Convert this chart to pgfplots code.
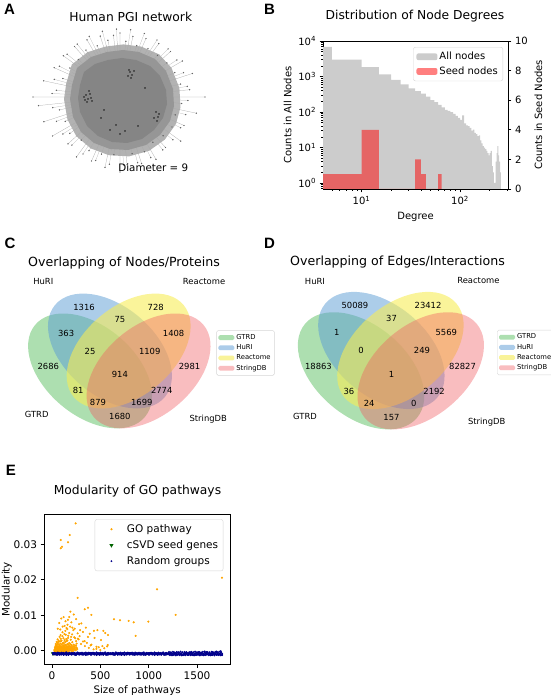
\documentclass[border=0pt]{standalone}
\usepackage{pgfplots}
\pgfplotsset{compat=1.18}
\usepackage{pgfplotstable}
\usepackage{fontspec}
\setmainfont{DejaVu Sans}
\newfontfamily\labfont{Liberation Sans}
\newcommand{\fs}[1]{\fontsize{#1}{#1}\selectfont}
\definecolor{histgrey}{RGB}{204,204,204}
\definecolor{vgreen}{RGB}{92,192,98}
\definecolor{vblue}{RGB}{90,155,212}
\definecolor{vyellow}{RGB}{246,236,86}
\definecolor{vred}{RGB}{241,90,96}
\definecolor{mplorange}{RGB}{255,165,0}
\definecolor{mplnavy}{RGB}{0,0,139}
\definecolor{mplgreen}{RGB}{0,100,0}
\definecolor{legframe}{RGB}{214,214,214}
\pgfplotsset{
  /pgf/number format/assume math mode=true,
  rectlegend/.style={legend image code/.code={\fill[##1, draw=none] (0pt,-3.4pt) rectangle (21pt,3.4pt);}},
  vennlegend/.style={legend image code/.code={\fill[##1, draw=none] (0pt,-2.4pt) rectangle (16pt,2.4pt);}},
  mplaxis/.style={scale only axis, tick align=outside, tick pos=left, major tick length=3.5pt,
    minor tick length=2pt, every tick/.style={black, line width=0.6pt},
    axis line style={line width=0.7pt}},
}
\pgfplotstableread{
x y1 y2 y3
10 -0.00062 -0.00103 -0.00072
20 -0.00081 -0.00078 -0.00058
30 -0.00055 -0.00112 -0.00101
40 -0.00094 -0.00089 -0.00067
50 -0.00071 -0.00121 -0.00085
60 -0.00048 -0.00095 -0.00113
70 -0.00088 -0.00083 -0.00061
80 -0.00066 -0.00116 -0.00092
90 -0.00077 -0.00099 -0.00075
100 -0.00052 -0.00108 -0.00106
110 -0.00091 -0.00087 -0.00069
120 -0.00059 -0.00119 -0.00082
130 -0.00084 -0.00093 -0.00098
140 -0.00069 -0.00105 -0.00054
150 -0.00046 -0.00124 -0.00089
160 -0.00097 -0.00085 -0.00073
170 -0.00074 -0.00111 -0.00117
180 -0.00057 -0.00097 -0.00063
190 -0.00086 -0.00079 -0.00096
200 -0.00064 -0.00114 -0.00080
210 -0.00064 -0.00103 -0.00080
220 -0.00086 -0.00078 -0.00096
230 -0.00057 -0.00112 -0.00063
240 -0.00074 -0.00089 -0.00117
250 -0.00097 -0.00121 -0.00073
260 -0.00046 -0.00095 -0.00089
270 -0.00069 -0.00083 -0.00054
280 -0.00084 -0.00116 -0.00098
290 -0.00059 -0.00099 -0.00082
300 -0.00091 -0.00108 -0.00069
310 -0.00052 -0.00087 -0.00106
320 -0.00077 -0.00119 -0.00075
330 -0.00066 -0.00093 -0.00092
340 -0.00088 -0.00105 -0.00061
350 -0.00048 -0.00124 -0.00113
360 -0.00071 -0.00085 -0.00085
370 -0.00094 -0.00111 -0.00067
380 -0.00055 -0.00097 -0.00101
390 -0.00081 -0.00079 -0.00058
400 -0.00062 -0.00114 -0.00072
410 -0.00062 -0.00114 -0.00072
420 -0.00081 -0.00079 -0.00058
430 -0.00055 -0.00097 -0.00101
440 -0.00094 -0.00111 -0.00067
450 -0.00071 -0.00085 -0.00085
460 -0.00048 -0.00124 -0.00113
470 -0.00088 -0.00105 -0.00061
480 -0.00066 -0.00093 -0.00092
490 -0.00077 -0.00119 -0.00075
500 -0.00052 -0.00087 -0.00106
510 -0.00091 -0.00108 -0.00069
520 -0.00059 -0.00099 -0.00082
530 -0.00084 -0.00116 -0.00098
540 -0.00069 -0.00083 -0.00054
550 -0.00046 -0.00095 -0.00089
560 -0.00097 -0.00121 -0.00073
570 -0.00074 -0.00089 -0.00117
580 -0.00057 -0.00112 -0.00063
590 -0.00086 -0.00078 -0.00096
600 -0.00064 -0.00103 -0.00080
610 -0.00064 -0.00103 -0.00080
620 -0.00086 -0.00078 -0.00096
630 -0.00057 -0.00112 -0.00063
640 -0.00074 -0.00089 -0.00117
650 -0.00097 -0.00121 -0.00073
660 -0.00046 -0.00095 -0.00089
670 -0.00069 -0.00083 -0.00054
680 -0.00084 -0.00116 -0.00098
690 -0.00059 -0.00099 -0.00082
700 -0.00091 -0.00108 -0.00069
710 -0.00052 -0.00087 -0.00106
720 -0.00077 -0.00119 -0.00075
730 -0.00066 -0.00093 -0.00092
740 -0.00088 -0.00105 -0.00061
750 -0.00048 -0.00124 -0.00113
760 -0.00071 -0.00085 -0.00085
770 -0.00094 -0.00111 -0.00067
780 -0.00055 -0.00097 -0.00101
790 -0.00081 -0.00079 -0.00058
800 -0.00062 -0.00114 -0.00072
810 -0.00062 -0.00103 -0.00072
820 -0.00081 -0.00078 -0.00058
830 -0.00055 -0.00112 -0.00101
840 -0.00094 -0.00089 -0.00067
850 -0.00071 -0.00121 -0.00085
860 -0.00048 -0.00095 -0.00113
870 -0.00088 -0.00083 -0.00061
880 -0.00066 -0.00116 -0.00092
890 -0.00077 -0.00099 -0.00075
900 -0.00052 -0.00108 -0.00106
910 -0.00091 -0.00087 -0.00069
920 -0.00059 -0.00119 -0.00082
930 -0.00084 -0.00093 -0.00098
940 -0.00069 -0.00105 -0.00054
950 -0.00046 -0.00124 -0.00089
960 -0.00097 -0.00085 -0.00073
970 -0.00074 -0.00111 -0.00117
980 -0.00057 -0.00097 -0.00063
990 -0.00086 -0.00079 -0.00096
1000 -0.00064 -0.00114 -0.00080
1010 -0.00062 -0.00114 -0.00072
1020 -0.00081 -0.00079 -0.00058
1030 -0.00055 -0.00097 -0.00101
1040 -0.00094 -0.00111 -0.00067
1050 -0.00071 -0.00085 -0.00085
1060 -0.00048 -0.00124 -0.00113
1070 -0.00088 -0.00105 -0.00061
1080 -0.00066 -0.00093 -0.00092
1090 -0.00077 -0.00119 -0.00075
1100 -0.00052 -0.00087 -0.00106
1110 -0.00091 -0.00108 -0.00069
1120 -0.00059 -0.00099 -0.00082
1130 -0.00084 -0.00116 -0.00098
1140 -0.00069 -0.00083 -0.00054
1150 -0.00046 -0.00095 -0.00089
1160 -0.00097 -0.00121 -0.00073
1170 -0.00074 -0.00089 -0.00117
1180 -0.00057 -0.00112 -0.00063
1190 -0.00086 -0.00078 -0.00096
1200 -0.00064 -0.00103 -0.00080
1210 -0.00062 -0.00103 -0.00035
1220 -0.00081 -0.00078 -0.00128
1230 -0.00055 -0.00112 -0.00042
1240 -0.00094 -0.00089 -0.00131
1250 -0.00071 -0.00121 -0.00028
1260 -0.00048 -0.00095 -0.00122
1270 -0.00088 -0.00083 -0.00047
1280 -0.00066 -0.00116 -0.00135
1290 -0.00077 -0.00099 -0.00031
1300 -0.00052 -0.00108 -0.00119
1310 -0.00091 -0.00087 -0.00039
1320 -0.00059 -0.00119 -0.00126
1330 -0.00084 -0.00093 -0.00024
1340 -0.00069 -0.00105 -0.00133
1350 -0.00046 -0.00124 -0.00044
1360 -0.00097 -0.00085 -0.00125
1370 -0.00074 -0.00111 -0.00033
1380 -0.00057 -0.00097 -0.00129
1390 -0.00086 -0.00079 -0.00038
1400 -0.00064 -0.00114 -0.00121
1410 -0.00064 -0.00114 -0.00121
1420 -0.00086 -0.00079 -0.00038
1430 -0.00057 -0.00097 -0.00129
1440 -0.00074 -0.00111 -0.00033
1450 -0.00097 -0.00085 -0.00125
1460 -0.00046 -0.00124 -0.00044
1470 -0.00069 -0.00105 -0.00133
1480 -0.00084 -0.00093 -0.00024
1490 -0.00059 -0.00119 -0.00126
1500 -0.00091 -0.00087 -0.00039
1510 -0.00052 -0.00108 -0.00119
1520 -0.00077 -0.00099 -0.00031
1530 -0.00066 -0.00116 -0.00135
1540 -0.00088 -0.00083 -0.00047
1550 -0.00048 -0.00095 -0.00122
1560 -0.00071 -0.00121 -0.00028
1570 -0.00094 -0.00089 -0.00131
1580 -0.00055 -0.00112 -0.00042
1590 -0.00081 -0.00078 -0.00128
1600 -0.00062 -0.00103 -0.00035
1610 -0.00062 -0.00103 -0.00035
1620 -0.00081 -0.00078 -0.00128
1630 -0.00055 -0.00112 -0.00042
1640 -0.00094 -0.00089 -0.00131
1650 -0.00071 -0.00121 -0.00028
1660 -0.00048 -0.00095 -0.00122
1670 -0.00088 -0.00083 -0.00047
1680 -0.00066 -0.00116 -0.00135
1690 -0.00077 -0.00099 -0.00031
1700 -0.00052 -0.00108 -0.00119
1710 -0.00091 -0.00087 -0.00039
1720 -0.00059 -0.00119 -0.00126
1730 -0.00084 -0.00093 -0.00024
1740 -0.00069 -0.00105 -0.00133
1750 -0.00046 -0.00124 -0.00044
1760 -0.00097 -0.00085 -0.00125
}\randomgroups
\begin{document}
\begin{tikzpicture}[x=1pt,y=1pt]
\useasboundingbox (0,0) rectangle (550,695);
% ---------------- panel labels ----------------
\node[font=\labfont\bfseries\fs{15}] at (9.5,685.5) {A};
\node[font=\labfont\bfseries\fs{15}] at (269.5,685.5) {B};
\node[font=\labfont\bfseries\fs{15}] at (10,451.7) {C};
\node[font=\labfont\bfseries\fs{15}] at (269.5,451.7) {D};
\node[font=\labfont\bfseries\fs{15}] at (10.8,225) {E};
% ---------------- titles ----------------
\node[font=\fs{12.3}] at (130.8,678.3) {Human PGI network};
\node[font=\fs{12.3}] at (415,679) {Distribution of Node Degrees};
\node[font=\fs{12.6}] at (124,432) {Overlapping of Nodes/Proteins};
\node[font=\fs{12.6}] at (397.5,433) {Overlapping of Edges/Interactions};
\node[font=\fs{12.3}] at (137.5,204.3) {Modularity of GO pathways};

% ================= Panel A: network =================
\begin{axis}[at={(20pt,515pt)}, anchor=south west, scale only axis, width=200pt, height=160pt,
  xmin=20, xmax=220, ymin=20, ymax=180, y dir=reverse, hide axis, clip=false]
% long spokes (behind the halo)
\addplot[draw=black!28, line width=0.25pt] coordinates {
(120,97) (187.9,100.5) (120,97) (185.7,114.6) (120,97) (180.6,127.8) (120,97) (172.9,139.8)
(120,97) (162.8,149.9) (120,97) (150.8,157.6) (120,97) (137.6,162.7) (120,97) (123.5,164.9)
(120,97) (109.4,164.2) (120,97) (95.7,160.5) (120,97) (83.0,154.0) (120,97) (71.9,145.1)
(120,97) (62.9,134.0) (120,97) (56.5,121.3) (120,97) (52.8,107.6) (120,97) (52.1,93.5)
(120,97) (54.3,79.4) (120,97) (59.4,66.2) (120,97) (67.1,54.2) (120,97) (77.2,44.1)
(120,97) (89.2,36.4) (120,97) (102.4,31.3) (120,97) (116.5,29.1) (120,97) (130.6,29.8)
(120,97) (144.3,33.5) (120,97) (157.0,40.0) (120,97) (168.1,48.9) (120,97) (176.8,60.0)
(120,97) (183.5,72.7) (120,97) (187.2,86.4) (120,97)};
% outer fuzzy halo
\addplot[fill=black!30, draw=none] coordinates {
(66.2,83.6) (71.8,64.5) (87.5,52.2) (105.4,46.6) (123.4,44.4) (141.3,46.6) (159.2,54.4)
(171.5,67.9) (179.4,88.0) (180.5,107.1) (176,123.9) (164.8,139.6) (149.1,150.8) (129,156.4)
(108.8,155.2) (90.9,148.5) (76.3,136.2) (67.4,119.4) (64,99.2)};
% spokes
\addplot[draw=black!34, line width=0.25pt] coordinates {
(120,97) (205,97) (120,97) (181.7,103.5) (120,97) (196.3,113.2) (120,97) (175.2,114.9)
(120,97) (184,125.5) (120,97) (172,127) (120,97) (180.7,141.1) (120,97) (163.1,135.8)
(120,97) (165.5,147.5) (120,97) (152.9,142.3) (120,97) (156,159.4) (120,97) (144.4,151.8)
(120,97) (141.6,163.6) (120,97) (132.1,153.7) (120,97) (127.1,164.7) (120,97) (120,172)
(120,97) (113.9,154.7) (120,97) (105,167.4) (120,97) (101.5,154.1) (120,97) (91.5,161)
(120,97) (89,150.7) (120,97) (76.5,156.9) (120,97) (81.2,140.1) (120,97) (68,143.8)
(120,97) (69.8,133.4) (120,97) (52.5,136) (120,97) (65.2,121.4) (120,97) (43.9,121.7)
(120,97) (59.4,109.9) (120,97) (38.5,105.6) (120,97) (33,97) (120,97) (56.4,90.3)
(120,97) (43.7,80.8) (120,97) (62.9,78.5) (120,97) (54.2,67.7) (120,97) (69.8,68)
(120,97) (63.4,55.8) (120,97) (78.4,59.5) (120,97) (74.5,46.5) (120,97) (85.9,50.1)
(120,97) (87,39.8) (120,97) (97.2,45.8) (120,97) (100.2,36.1) (120,97) (107.9,40.3)
(120,97) (113.5,35.3) (120,97) (120,33) (120,97) (125.9,41.3) (120,97) (132.9,36.4)
(120,97) (136.7,45.6) (120,97) (146,38.5) (120,97) (148,48.5) (120,97) (158.8,43.6)
(120,97) (157.5,55.4) (120,97) (170.5,51.5) (120,97) (166.9,62.9) (120,97) (182.4,61)
(120,97) (174.8,72.6) (120,97) (192.3,73.5) (120,97) (180.6,84.1) (120,97) (189.6,89.7)
(120,97) (173.9,99.8) (120,97) (172.2,111.0) (120,97) (168.1,121.5) (120,97) (162.0,131.0)
(120,97) (154.0,139.0) (120,97) (144.5,145.1) (120,97) (134.0,149.2) (120,97) (122.8,150.9)
(120,97) (111.6,150.4) (120,97) (100.7,147.4) (120,97) (90.6,142.3) (120,97) (81.8,135.2)
(120,97) (74.7,126.4) (120,97) (69.6,116.3) (120,97) (66.6,105.4) (120,97) (66.1,94.2)
(120,97) (67.8,83.0) (120,97) (71.9,72.5) (120,97) (78.0,63.0) (120,97) (86.0,55.0)
(120,97) (95.5,48.9) (120,97) (106.0,44.8) (120,97) (117.2,43.1) (120,97) (128.4,43.6)
(120,97) (139.3,46.6) (120,97) (149.4,51.7) (120,97) (158.2,58.8) (120,97) (165.3,67.6)
(120,97) (170.4,77.7) (120,97) (173.4,88.6) (120,97)};
% outer nodes
\addplot[only marks, mark=*, mark size=0.45pt, black!60] coordinates {
(205,97) (181.7,103.5) (196.3,113.2) (175.2,114.9) (184,125.5) (172,127) (180.7,141.1) (163.1,135.8)
(165.5,147.5) (152.9,142.3) (156,159.4) (144.4,151.8) (141.6,163.6) (132.1,153.7) (127.1,164.7) (120,172)
(113.9,154.7) (105,167.4) (101.5,154.1) (91.5,161) (89,150.7) (76.5,156.9) (81.2,140.1) (68,143.8)
(69.8,133.4) (52.5,136) (65.2,121.4) (43.9,121.7) (59.4,109.9) (38.5,105.6) (33,97) (56.4,90.3)
(43.7,80.8) (62.9,78.5) (54.2,67.7) (69.8,68) (63.4,55.8) (78.4,59.5) (74.5,46.5) (85.9,50.1)
(87,39.8) (97.2,45.8) (100.2,36.1) (107.9,40.3) (113.5,35.3) (120,33) (125.9,41.3) (132.9,36.4)
(136.7,45.6) (146,38.5) (148,48.5) (158.8,43.6) (157.5,55.4) (170.5,51.5) (166.9,62.9) (182.4,61)
(174.8,72.6) (192.3,73.5) (180.6,84.1) (189.6,89.7)
(187.9,100.5) (185.7,114.6) (180.6,127.8) (172.9,139.8) (162.8,149.9) (150.8,157.6) (137.6,162.7)
(123.5,164.9) (109.4,164.2) (95.7,160.5) (83.0,154.0) (71.9,145.1) (62.9,134.0) (56.5,121.3)
(52.8,107.6) (52.1,93.5) (54.3,79.4) (59.4,66.2) (67.1,54.2) (77.2,44.1) (89.2,36.4) (102.4,31.3)
(116.5,29.1) (130.6,29.8) (144.3,33.5) (157.0,40.0) (168.1,48.9) (176.8,60.0) (183.5,72.7) (187.2,86.4)};
% middle layer
\addplot[fill=black!41, draw=none] coordinates {
(72,85) (77,68) (91,57) (107,52) (123,50) (139,52) (155,59) (166,71) (173,89) (174,106)
(170,121) (160,135) (146,145) (128,150) (110,149) (94,143) (81,132) (73,117) (70,99)};
% dense core
\addplot[fill=black!48, draw=none] coordinates {
(80,85) (84,72) (95,64) (108,60) (122,58) (136,60) (150,66) (160,76) (166,90) (167,104)
(163,118) (154,130) (142,139) (127,143) (112,142) (98,136) (87,126) (80,112) (78,98)};
% dark clusters
\addplot[only marks, mark=*, mark size=0.5pt, black!85] coordinates {
(86,95) (88,99) (90,94) (87,102) (91,98) (84,97) (89,91) (85,100) (92,101)
(130,72) (132,75) (128,76) (134,71) (131,78) (129,70)
(156,112) (158,117) (154,118) (157,121) (159,114)
(125,131) (120,134) (110,130) (101,118) (145,88) (138,126) (116,125) (104,110)};
\end{axis}
\node[font=\fs{10.3}] at (153.3,527.3) {Diameter = 9};

% ================= Panel B: degree histogram =================
\begin{axis}[mplaxis, at={(323pt,506pt)}, anchor=south west, width=185pt, height=148pt,
  xmode=log, ymode=log, xmin=4.06, xmax=307, ymin=0.678, ymax=10000,
  xtick={10,100}, xticklabels={10\textsuperscript{1},10\textsuperscript{2}},
  ytick={1,10,100,1000,10000},
  yticklabels={10\textsuperscript{0},10\textsuperscript{1},10\textsuperscript{2},10\textsuperscript{3},10\textsuperscript{4}},
  minor xtick={5,6,7,8,9,20,30,40,50,60,70,80,90,200,300},
  minor ytick={0.7,0.8,0.9,2,3,4,5,6,7,8,9,20,30,40,50,60,70,80,90,200,300,400,500,600,700,800,900,2000,3000,4000,5000,6000,7000,8000,9000},
  tick label style={font=\fs{10}}, label style={font=\fs{10}},
  xlabel={Degree}, ylabel={Counts in All Nodes}]
\addplot[const plot, fill=histgrey, draw=none] coordinates {
(1,0.5) (1,6800) (5,3000) (10,1850) (15,1150) (20,800) (25,600) (30,460) (35,390) (40,330)
(45,270) (50,215) (55,190) (60,160) (65,135) (70,115) (75,108) (80,100) (85,88) (90,78)
(95,68) (100,60) (105,80) (110,48) (115,42) (120,40) (125,36) (130,30) (135,32) (140,26)
(145,24) (150,21) (155,22) (160,16) (165,13) (170,11) (175,10) (180,9) (185,8) (190,7)
(195,6) (200,7) (205,8) (210,3) (215,2) (220,1) (225,1) (230,4) (235,7) (240,11)
(245,6) (250,4) (255,2) (260,2) (260,0.5)};
\end{axis}
\begin{axis}[mplaxis, at={(323pt,506pt)}, anchor=south west, width=185pt, height=148pt,
  xmode=log, xmin=4.06, xmax=307, ymin=0, ymax=10,
  axis x line=none, axis y line*=right, tick pos=right,
  ytick={0,2,4,6,8,10},
  tick label style={font=\fs{10}}, label style={font=\fs{10}},
  ylabel={Counts in Seed Nodes},
  legend style={at={(0.973,0.959)}, anchor=north east, font=\fs{10}, draw=legframe,
    rounded corners=2pt, inner sep=3pt, row sep=1.5pt},
  legend cell align=left]
\addlegendimage{rectlegend, fill=histgrey, draw=none}
\addlegendentry{All nodes}
\addplot[const plot, fill=red, fill opacity=0.5, draw=none, rectlegend] coordinates {
(1,0) (1,1) (5,1) (10,4) (15,0) (35,2) (40,1) (45,0) (60,1) (65,0)};
\addlegendentry{Seed nodes}
\end{axis}

% ================= Panel C: Venn nodes =================
\begin{axis}[at={(20.4pt,244.5pt)}, anchor=south west, scale only axis, width=199pt, height=199pt,
  xmin=0, xmax=1, ymin=0, ymax=1, hide axis, clip=false,
  legend style={at={(0.985,0.49)}, anchor=west, font=\fs{6.8}, draw=legframe,
    rounded corners=1.5pt, inner sep=1.8pt, row sep=-0.3pt},
  legend cell align=left]
\fill[vgreen, fill opacity=0.5, rotate around={140:(axis cs:0.35,0.4)}] (axis cs:0.35,0.4) ellipse [x radius=71.64pt, y radius=44.78pt];
\fill[vblue, fill opacity=0.5, rotate around={140:(axis cs:0.45,0.5)}] (axis cs:0.45,0.5) ellipse [x radius=71.64pt, y radius=44.78pt];
\fill[vyellow, fill opacity=0.6, rotate around={40:(axis cs:0.544,0.5)}] (axis cs:0.544,0.5) ellipse [x radius=71.64pt, y radius=44.78pt];
\fill[vred, fill opacity=0.4, rotate around={40:(axis cs:0.644,0.4)}] (axis cs:0.644,0.4) ellipse [x radius=71.64pt, y radius=44.78pt];
\addlegendimage{vennlegend, fill=vgreen, fill opacity=0.5, draw=none}\addlegendentry{GTRD}
\addlegendimage{vennlegend, fill=vblue, fill opacity=0.5, draw=none}\addlegendentry{HuRI}
\addlegendimage{vennlegend, fill=vyellow, fill opacity=0.6, draw=none}\addlegendentry{Reactome}
\addlegendimage{vennlegend, fill=vred, fill opacity=0.4, draw=none}\addlegendentry{StringDB}
\begin{scope}[every node/.style={font=\fs{8.4}}]
\node at (axis cs:0.85,0.42) {2981};
\node at (axis cs:0.68,0.72) {728};
\node at (axis cs:0.77,0.59) {1408};
\node at (axis cs:0.32,0.72) {1316};
\node at (axis cs:0.71,0.30) {2774};
\node at (axis cs:0.50,0.66) {75};
\node at (axis cs:0.65,0.50) {1109};
\node at (axis cs:0.14,0.42) {2686};
\node at (axis cs:0.50,0.17) {1680};
\node at (axis cs:0.29,0.30) {81};
\node at (axis cs:0.39,0.24) {879};
\node at (axis cs:0.23,0.59) {363};
\node at (axis cs:0.61,0.24) {1699};
\node at (axis cs:0.35,0.50) {25};
\node at (axis cs:0.50,0.38) {914};
\node at (axis cs:0.115,0.848) {HuRI};
\node at (axis cs:0.923,0.848) {Reactome};
\node at (axis cs:0.082,0.182) {GTRD};
\node at (axis cs:0.944,0.157) {StringDB};
\end{scope}
\end{axis}

% ================= Panel D: Venn edges =================
\begin{axis}[at={(290pt,243pt)}, anchor=south west, scale only axis, width=203pt, height=203pt,
  xmin=0, xmax=1, ymin=0, ymax=1, hide axis, clip=false,
  legend style={at={(1.02,0.49)}, anchor=west, font=\fs{6.8}, draw=legframe,
    rounded corners=1.5pt, inner sep=1.8pt, row sep=-0.3pt},
  legend cell align=left]
\fill[vgreen, fill opacity=0.5, rotate around={140:(axis cs:0.35,0.4)}] (axis cs:0.35,0.4) ellipse [x radius=73.08pt, y radius=45.68pt];
\fill[vblue, fill opacity=0.5, rotate around={140:(axis cs:0.45,0.5)}] (axis cs:0.45,0.5) ellipse [x radius=73.08pt, y radius=45.68pt];
\fill[vyellow, fill opacity=0.6, rotate around={40:(axis cs:0.544,0.5)}] (axis cs:0.544,0.5) ellipse [x radius=73.08pt, y radius=45.68pt];
\fill[vred, fill opacity=0.4, rotate around={40:(axis cs:0.644,0.4)}] (axis cs:0.644,0.4) ellipse [x radius=73.08pt, y radius=45.68pt];
\addlegendimage{vennlegend, fill=vgreen, fill opacity=0.5, draw=none}\addlegendentry{GTRD}
\addlegendimage{vennlegend, fill=vblue, fill opacity=0.5, draw=none}\addlegendentry{HuRI}
\addlegendimage{vennlegend, fill=vyellow, fill opacity=0.6, draw=none}\addlegendentry{Reactome}
\addlegendimage{vennlegend, fill=vred, fill opacity=0.4, draw=none}\addlegendentry{StringDB}
\begin{scope}[every node/.style={font=\fs{8.4}}]
\node at (axis cs:0.85,0.42) {82827};
\node at (axis cs:0.68,0.72) {23412};
\node at (axis cs:0.77,0.59) {5569};
\node at (axis cs:0.32,0.72) {50089};
\node at (axis cs:0.71,0.30) {2192};
\node at (axis cs:0.50,0.66) {37};
\node at (axis cs:0.65,0.50) {249};
\node at (axis cs:0.14,0.42) {18863};
\node at (axis cs:0.50,0.17) {157};
\node at (axis cs:0.29,0.30) {36};
\node at (axis cs:0.39,0.24) {24};
\node at (axis cs:0.23,0.59) {1};
\node at (axis cs:0.61,0.24) {0};
\node at (axis cs:0.35,0.50) {0};
\node at (axis cs:0.50,0.38) {1};
\node at (axis cs:0.123,0.839) {HuRI};
\node at (axis cs:0.928,0.844) {Reactome};
\node at (axis cs:0.074,0.174) {GTRD};
\node at (axis cs:0.969,0.149) {StringDB};
\end{scope}
\end{axis}

% ================= Panel E: modularity =================
\begin{axis}[mplaxis, at={(44pt,30.7pt)}, anchor=south west, width=186.3pt, height=150pt,
  xmin=-83, xmax=1844, ymin=-0.00383, ymax=0.03846,
  xtick={0,500,1000,1500}, xticklabels={0,500,1000,1500},
  ytick={0,0.01,0.02,0.03}, yticklabels={0.00,0.01,0.02,0.03}, scaled y ticks=false,
  tick label style={font=\fs{10.5}}, label style={font=\fs{10.3}},
  xlabel={Size of pathways}, ylabel={Modularity}, ylabel shift=-5pt,
  legend image code/.code={\path[draw=none, fill=none] (0pt,-3pt) rectangle (27pt,3pt); \draw[mark repeat=2, mark phase=2, #1] plot coordinates {(0pt,0pt) (13.5pt,0pt) (27pt,0pt)};},
  legend style={at={(0.9624,0.9667)}, anchor=north east, font=\fs{10.5}, draw=legframe,
    rounded corners=2pt, inner sep=3pt, row sep=2.5pt},
  legend cell align=left]
\addplot[only marks, mark=*, mark size=0.85pt, mplorange, mark options={draw=none}] coordinates {
(22,-0.0009) (25,-0.0004) (28,0.0001) (30,-0.0007) (32,0.0006) (34,-0.0002) (36,0.0012) (38,-0.0010)
(40,0.0003) (42,-0.0005) (44,0.0009) (46,0.0000) (48,-0.0008) (50,0.0015) (52,0.0004) (54,-0.0003)
(56,0.0021) (58,0.0007) (60,-0.0006) (62,0.0002) (64,0.0011) (66,-0.0009) (68,0.0005) (70,0.0018)
(72,-0.0001) (74,0.0008) (76,-0.0007) (78,0.0003) (80,0.0026) (82,0.0000) (84,0.0013) (86,-0.0004)
(88,0.0006) (90,0.0034) (92,-0.0008) (94,0.0010) (96,0.0002) (98,-0.0005) (100,0.0017) (102,0.0004)
(104,-0.0002) (106,0.0009) (108,0.0041) (110,0.0001) (112,-0.0006) (114,0.0014) (116,0.0006) (118,-0.0003)
(120,0.0023) (122,0.0003) (124,0.0011) (126,-0.0008) (128,0.0005) (130,0.0030) (132,0.0000) (134,0.0008)
(136,-0.0005) (138,0.0016) (140,0.0002) (142,0.0045) (144,0.0007) (146,-0.0002) (148,0.0012) (150,0.0004)
(152,0.0027) (154,-0.0006) (156,0.0009) (158,0.0001) (160,0.0019) (162,0.0006) (164,-0.0004) (166,0.0036)
(168,0.0003) (170,0.0011) (172,-0.0001) (175,0.0007) (178,0.0022) (181,0.0002) (184,0.0013) (187,-0.0005)
(190,0.0005) (193,0.0031) (196,0.0009) (199,0.0000) (202,0.0016) (206,0.0004) (210,0.0024) (214,0.0008)
(218,-0.0003) (222,0.0012) (226,0.0002) (230,0.0038) (235,0.0006) (240,0.0015) (245,0.0001) (250,0.0009)
(255,0.0020) (260,0.0004)
(24,0.0002) (27,-0.0006) (31,0.0009) (33,-0.0001) (37,0.0004) (39,0.0014) (41,-0.0008) (43,0.0001)
(47,0.0011) (49,-0.0003) (51,0.0007) (53,0.0018) (57,-0.0005) (59,0.0010) (61,0.0003) (63,0.0024)
(67,0.0000) (69,0.0012) (71,0.0006) (73,-0.0004) (77,0.0015) (79,0.0001) (81,0.0009) (83,-0.0006)
(87,0.0020) (89,0.0004) (91,0.0012) (93,0.0027) (97,0.0007) (99,0.0001) (101,0.0010) (103,-0.0007)
(107,0.0003) (109,0.0021) (111,0.0008) (113,0.0000) (117,0.0013) (119,0.0004) (121,-0.0001) (123,0.0019)
(127,0.0009) (129,0.0002) (131,0.0014) (133,0.0006) (137,0.0025) (139,-0.0003) (141,0.0008) (143,0.0017)
(147,0.0005) (149,0.0010) (151,-0.0002) (153,0.0013) (157,0.0003) (159,0.0029) (161,0.0008) (163,0.0012)
(167,0.0001) (169,0.0018) (171,0.0005) (173,0.0010) (177,0.0014) (183,0.0006) (189,0.0019) (195,0.0011)
(201,0.0007) (208,0.0013) (216,0.0003) (224,0.0017) (232,0.0010) (238,0.0003) (248,0.0014) (258,0.0007)
(35,0.0003) (45,0.0005) (55,-0.0001) (65,0.0004) (75,0.0002) (85,0.0007) (95,0.0000) (105,0.0005)
(115,0.0003) (125,0.0000) (135,0.0004) (145,0.0002) (155,0.0006) (165,0.0001) (175,0.0003) (185,0.0005)
(195,0.0002) (205,0.0000) (215,0.0004) (225,0.0006)
(38,0.0019) (48,0.0025) (58,0.0032) (68,0.0028) (78,0.0039) (88,0.0044) (98,0.0029) (108,0.0052)
(118,0.0035) (128,0.0047) (138,0.0056) (148,0.0033) (158,0.0061) (168,0.0042) (178,0.0050) (188,0.0068)
(198,0.0039) (208,0.0046) (220,0.0058) (240,0.0035) (250,0.0027) (265,0.0049) (275,0.0032) (285,0.0041)
(300,0.0019) (320,0.0026) (340,0.0013) (360,0.0022) (380,0.0008) (400,0.0015) (430,0.0004) (460,0.0011)
(500,0.0002) (540,0.0007) (570,0.0012)
(120,0.0095) (140,0.0083) (75,0.0078) (95,0.0091) (160,0.0073) (110,0.0068) (200,0.0080) (210,0.0065)
(60,0.0062) (130,0.0070) (85,0.0060) (250,0.0089) (280,0.0075) (225,0.0102) (150,0.0064) (178,0.0095)
(290,0.0058) (350,0.0065) (390,0.0048) (440,0.0036) (470,0.0058) (550,0.0050)
(245,0.0359) (90,0.0312) (183,0.0326) (165,0.0306) (103,0.0293) (90,0.0289) (1758,0.0206) (1086,0.0173)
(1279,0.0101) (265,0.0149) (641,0.0089) (703,0.0086) (793,0.0084) (845,0.0080) (996,0.0082) (865,0.0042)
(372,0.0121) (338,0.0117) (190,0.0110) (165,0.0087) (303,0.0077) (407,0.0101) (434,0.0056) (531,0.0056)
(579,0.0044) (507,0.0030) (576,0.0016) (521,0.0013) (372,0.0039) (320,0.0053) (268,0.0034) (234,0.0062)
(338,0.0027) (407,0.0017) (459,0.0005) (483,0.0010)};
\addlegendentry{GO pathway}
\addplot[only marks, mark=triangle*, mark size=2pt, mplgreen, mark options={rotate=180, draw=none}] coordinates {(10,-0.0008)};
\addlegendentry{cSVD seed genes}
\addplot[only marks, mark=*, mark size=0.7pt, mplnavy, mark options={draw=none}] table[x=x, y=y1] {\randomgroups};
\addlegendentry{Random groups}
\addplot[only marks, mark=*, mark size=0.7pt, mplnavy, mark options={draw=none}, forget plot] table[x=x, y=y2] {\randomgroups};
\addplot[only marks, mark=*, mark size=0.7pt, mplnavy, mark options={draw=none}, forget plot] table[x=x, y=y3] {\randomgroups};
\addplot[only marks, mark=*, mark size=0.7pt, mplnavy, mark options={draw=none}, forget plot] coordinates {
(1700,-0.0002) (1745,-0.0001) (1655,-0.0003) (1580,-0.0002) (1520,-0.0004) (1440,-0.0003)};
\end{axis}
\end{tikzpicture}
\end{document}
